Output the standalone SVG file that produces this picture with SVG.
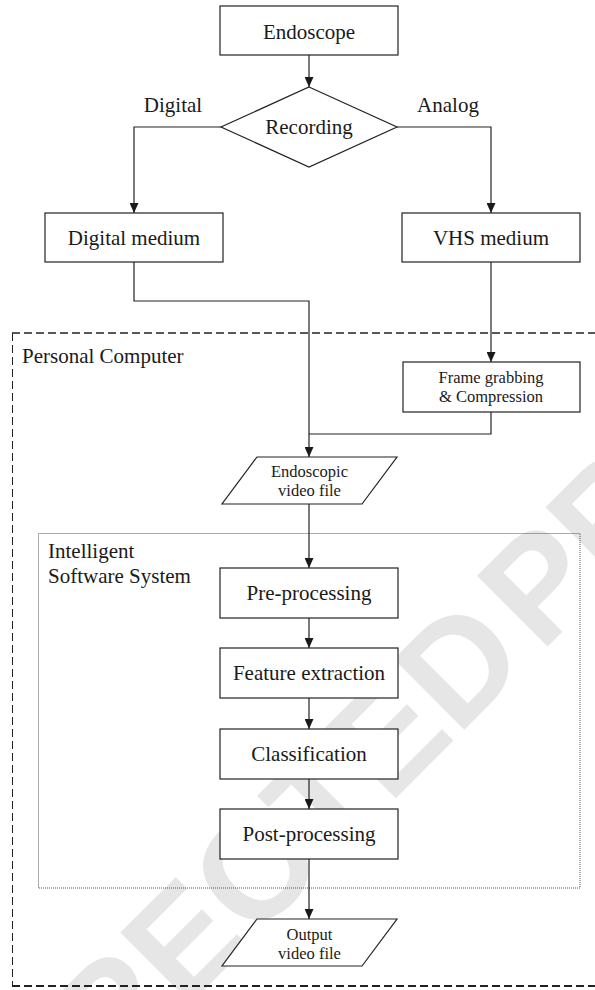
<svg xmlns="http://www.w3.org/2000/svg" width="595" height="990" viewBox="0 0 595 990">
<style>
.box{fill:#fff;stroke:#222;stroke-width:1.2}
.t{font-family:"Liberation Serif","Times New Roman",serif;font-size:21px;fill:#1a1a1a;text-anchor:middle}
.s{font-family:"Liberation Serif","Times New Roman",serif;font-size:16.5px;fill:#1a1a1a;text-anchor:middle}
.l{font-family:"Liberation Serif","Times New Roman",serif;font-size:21px;fill:#1a1a1a}
.c{fill:none;stroke:#222;stroke-width:1.2}
.wm{font-family:"Liberation Sans",Arial,sans-serif;font-weight:bold;font-size:145px;word-spacing:-27px;fill:#e6e6e6}
</style>
<defs>
<marker id="ah" markerUnits="userSpaceOnUse" markerWidth="10" markerHeight="9" refX="10" refY="4.5" orient="auto">
<path d="M0,0 L10,4.5 L0,9 z" fill="#1a1a1a"/>
</marker>
</defs>
<text class="wm" x="-266" y="1460" transform="rotate(-45 -266 1460)">UNCORRECTED PROOF</text>
<g id="pc-frame">
<line x1="12" y1="333" x2="595" y2="333" stroke="#222" stroke-width="1.5" stroke-dasharray="8 4"/>
<line x1="12" y1="986" x2="595" y2="986" stroke="#222" stroke-width="1.8" stroke-dasharray="8 4"/>
<line x1="12.5" y1="333" x2="12.5" y2="986" stroke="#222" stroke-width="1" stroke-dasharray="8 4"/>
<text class="l" x="22" y="363">Personal Computer</text>
</g>
<g id="iss-frame">
<rect x="38.5" y="533.5" width="541.5" height="354.5" fill="none" stroke="#555" stroke-width="1" stroke-dasharray="1 1"/>
<text class="l" x="48" y="558">Intelligent</text>
<text class="l" x="48" y="583">Software System</text>
</g>
<g id="connectors">
<path class="c" d="M309,55 V87" marker-end="url(#ah)"/>
<path class="c" d="M221,127 H134 V213" marker-end="url(#ah)"/>
<path class="c" d="M397,127 H491 V213" marker-end="url(#ah)"/>
<path class="c" d="M134,262 V301 H309 V457" marker-end="url(#ah)"/>
<path class="c" d="M491,262 V362" marker-end="url(#ah)"/>
<path class="c" d="M491,412 V434 H309"/>
<path class="c" d="M309,504 V568" marker-end="url(#ah)"/>
<path class="c" d="M309,618 V648" marker-end="url(#ah)"/>
<path class="c" d="M309,698 V729" marker-end="url(#ah)"/>
<path class="c" d="M309,779 V809" marker-end="url(#ah)"/>
<path class="c" d="M309,859 V919" marker-end="url(#ah)"/>
<text class="t" x="173" y="112">Digital</text>
<text class="t" x="448" y="112">Analog</text>
</g>
<g id="endoscope">
<rect class="box" x="220" y="6" width="178" height="49"/>
<text class="t" x="309" y="39">Endoscope</text>
</g>
<g id="recording">
<polygon class="box" points="309,87 397,127 309,167 221,127"/>
<text class="t" x="309" y="134">Recording</text>
</g>
<g id="digital-medium">
<rect class="box" x="45" y="213" width="178" height="49"/>
<text class="t" x="134" y="245">Digital medium</text>
</g>
<g id="vhs-medium">
<rect class="box" x="402" y="213" width="178" height="49"/>
<text class="t" x="491" y="245">VHS medium</text>
</g>
<g id="frame-grabbing">
<rect class="box" x="403" y="362" width="177" height="50"/>
<text class="s" x="491" y="383">Frame grabbing</text>
<text class="s" x="491" y="402">&amp; Compression</text>
</g>
<g id="endoscopic-video">
<polygon class="box" points="257,457 397,457 362,504 222,504"/>
<text class="s" x="309.5" y="477">Endoscopic</text>
<text class="s" x="309.5" y="496">video file</text>
</g>
<g id="pre-processing">
<rect class="box" x="220" y="568" width="178" height="50"/>
<text class="t" x="309" y="600">Pre-processing</text>
</g>
<g id="feature-extraction">
<rect class="box" x="220" y="648" width="178" height="50"/>
<text class="t" x="309" y="680">Feature extraction</text>
</g>
<g id="classification">
<rect class="box" x="220" y="729" width="178" height="50"/>
<text class="t" x="309" y="761">Classification</text>
</g>
<g id="post-processing">
<rect class="box" x="220" y="809" width="178" height="50"/>
<text class="t" x="309" y="841">Post-processing</text>
</g>
<g id="output-video">
<polygon class="box" points="257,919 397,919 362,966 222,966"/>
<text class="s" x="309.5" y="940">Output</text>
<text class="s" x="309.5" y="959">video file</text>
</g>
</svg>
